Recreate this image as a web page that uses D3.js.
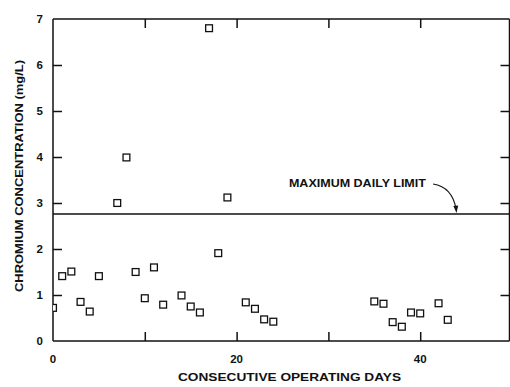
<!DOCTYPE html>
<html>
<head>
<meta charset="utf-8">
<script src="https://cdn.jsdelivr.net/npm/d3@7"></script>
<style>
  html, body { margin: 0; padding: 0; background: #fff; }
  svg { display: block; }
  text { font-family: "Liberation Sans", Arial, Helvetica, sans-serif; font-weight: bold; fill: #111; }
</style>
</head>
<body>
<svg id="chart" width="510" height="387"></svg>
<script>
// ---- data ----
const days = [0, 1, 2, 3, 4, 5, 7, 8, 9, 10, 11, 12, 14, 15, 16, 17, 18, 19, 21, 22, 23, 24,
              35, 36, 37, 38, 39, 40, 42, 43];
const chromium = [0.72, 1.41, 1.51, 0.85, 0.64, 1.41, 3.0, 3.99, 1.5, 0.93, 1.6, 0.79, 0.99, 0.75, 0.62, 6.8, 1.91, 3.12, 0.84, 0.70, 0.47, 0.42,
                  0.86, 0.81, 0.41, 0.31, 0.62, 0.60, 0.82, 0.46];
const maxDailyLimit = 2.76;
const xTickValues = [0, 10, 20, 30, 40];
const xTickLabels = ["0", "", "20", "", "40"];
const yTickValues = [0, 1, 2, 3, 4, 5, 6, 7];
const xTitle = "CONSECUTIVE OPERATING DAYS";
const yTitle = "CHROMIUM CONCENTRATION (mg/L)";
const limitLabel = "MAXIMUM DAILY LIMIT";

// ---- layout ----
const svg = d3.select("#chart");
const mLeft = 53, mTop = 19, mBottom = 341, mRight = 509.5;
const x = d3.scaleLinear().domain([0, 50]).range([mLeft, 512]);
const y = d3.scaleLinear().domain([0, 7]).range([mBottom, mTop]);
const ink = "#111";
const tickLen = 9;

svg.append("defs").append("clipPath").attr("id", "plotclip")
  .append("rect").attr("x", mLeft).attr("y", mTop).attr("width", mRight - mLeft).attr("height", mBottom - mTop);

// frame
const frame = svg.append("g").attr("stroke", ink).attr("stroke-width", 1.5).attr("fill", "none");
frame.append("line").attr("x1", mLeft).attr("x2", mLeft).attr("y1", mTop).attr("y2", mBottom);
frame.append("line").attr("x1", mLeft).attr("x2", mRight).attr("y1", mBottom).attr("y2", mBottom);
frame.append("line").attr("x1", mLeft).attr("x2", mRight).attr("y1", mTop).attr("y2", mTop);
frame.append("line").attr("x1", mRight).attr("x2", mRight).attr("y1", mTop).attr("y2", mBottom);

// inner ticks via d3 axes
const innerX = xTickValues.filter(v => v > 0);
const innerY = yTickValues.filter(v => v > 0 && v < 7);

const bottomAxis = d3.axisTop(x).tickValues(innerX).tickSize(tickLen).tickFormat("");
const topAxis = d3.axisBottom(x).tickValues(innerX).tickSize(tickLen).tickFormat("");
const leftAxis = d3.axisRight(y).tickValues(innerY).tickSize(tickLen).tickFormat("");
const rightAxis = d3.axisLeft(y).tickValues(innerY).tickSize(tickLen).tickFormat("");

function styleAxis(g) {
  g.select(".domain").remove();
  g.selectAll(".tick line").attr("stroke", ink).attr("stroke-width", 1.5);
}
svg.append("g").attr("transform", `translate(0,${mBottom})`).call(bottomAxis).call(styleAxis);
svg.append("g").attr("transform", `translate(0,${mTop})`).call(topAxis).call(styleAxis);
svg.append("g").attr("transform", `translate(${mLeft},0)`).call(leftAxis).call(styleAxis);
svg.append("g").attr("transform", `translate(${mRight},0)`).call(rightAxis).call(styleAxis);

// tick labels
svg.append("g").selectAll("text").data(yTickValues).join("text")
  .attr("x", 43).attr("y", d => y(d)).attr("dy", "0.36em")
  .attr("text-anchor", "end").attr("font-size", 11.5).text(d => d);
svg.append("g").selectAll("text").data(xTickValues.map((v, i) => ({v, l: xTickLabels[i]})).filter(d => d.l)).join("text")
  .attr("x", d => x(d.v)).attr("y", 362.5)
  .attr("text-anchor", "middle").attr("font-size", 11.5).text(d => d.l);

// axis titles
svg.append("text").attr("x", 178).attr("y", 381).attr("font-size", 10)
  .attr("textLength", 223).attr("lengthAdjust", "spacingAndGlyphs").text(xTitle);
svg.append("text")
  .attr("transform", `translate(23,${(60 + 292) / 2}) rotate(-90)`)
  .attr("text-anchor", "middle").attr("font-size", 10)
  .attr("textLength", 232).attr("lengthAdjust", "spacingAndGlyphs").text(yTitle);

// limit line
svg.append("line").attr("x1", mLeft).attr("x2", mRight)
  .attr("y1", y(maxDailyLimit)).attr("y2", y(maxDailyLimit))
  .attr("stroke", ink).attr("stroke-width", 1.5);

// limit label + arrow
svg.append("text").attr("x", x(25.7)).attr("y", y(maxDailyLimit) - 27).attr("font-size", 10.5)
  .attr("textLength", 137).attr("lengthAdjust", "spacingAndGlyphs").text(limitLabel);
const ax0 = x(41.4), ay0 = y(maxDailyLimit) - 30;
const ax1 = x(43.9), ay1 = y(maxDailyLimit) - 1;
svg.append("path")
  .attr("d", `M${ax0},${ay0} Q${x(43.5)},${ay0 + 3} ${ax1},${ay1 - 4}`)
  .attr("fill", "none").attr("stroke", ink).attr("stroke-width", 1.1);
svg.append("path")
  .attr("d", `M${ax1 - 2.6},${ay1 - 7} L${ax1 + 0.5},${ay1} L${ax1 + 2.2},${ay1 - 7.5} Z`)
  .attr("fill", ink);

// points
const sz = 6.8;
svg.append("g").attr("clip-path", "url(#plotclip)")
  .selectAll("rect").data(days.map((d, i) => ({d, v: chromium[i]}))).join("rect")
  .attr("x", p => x(p.d) - sz / 2).attr("y", p => y(p.v) - sz / 2)
  .attr("width", sz).attr("height", sz)
  .attr("fill", "#fff").attr("stroke", ink).attr("stroke-width", 1.3);
</script>
</body>
</html>
